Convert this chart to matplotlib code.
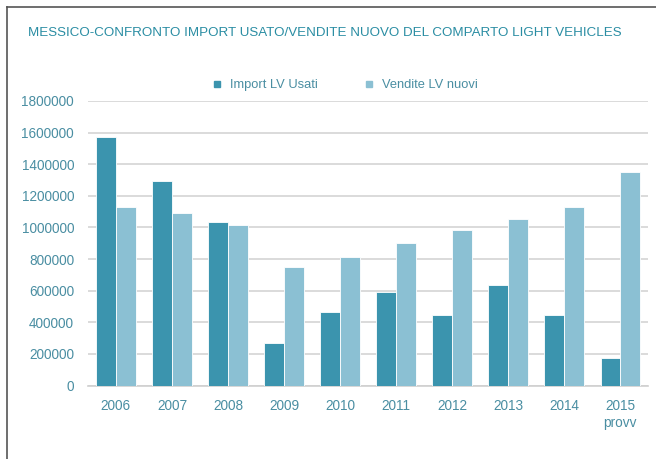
import matplotlib
matplotlib.use("Agg")
import matplotlib.pyplot as plt
from matplotlib.lines import Line2D
import numpy as np

years = ["2006", "2007", "2008", "2009", "2010", "2011", "2012", "2013", "2014", "2015\nprovv"]
import_usati = [1572000, 1291000, 1032000, 268000, 465000, 591000, 449000, 637000, 449000, 177000]
vendite_nuovi = [1129000, 1091000, 1017000, 747000, 816000, 901000, 983000, 1055000, 1131000, 1348000]
y_ticks = list(range(0, 1800001, 200000))

DARK = "#3b94ae"
LIGHT = "#8bc0d3"
TEXT = "#4a8ea2"
TITLE = "#2a8da3"

plt.rcParams.update({"font.family": ["Liberation Sans", "DejaVu Sans"], "font.size": 9})

fig = plt.figure(figsize=(6.56, 4.59), dpi=100)
ax = fig.add_axes([0.134, 0.160, 0.854, 0.620])

x = np.arange(len(years))
w = 0.345
ax.bar(x - w / 2 - 0.005, import_usati, w, color=DARK, edgecolor="white", lw=0.6,
       label="Import LV Usati", zorder=3)
ax.bar(x + w / 2 + 0.005, vendite_nuovi, w, color=LIGHT, edgecolor="white", lw=0.6,
       label="Vendite LV nuovi", zorder=3)

ax.set_xlim(-0.5, len(years) - 0.5)
ax.set_ylim(0, 1800000)
ax.set_yticks(y_ticks)
ax.set_yticklabels([str(v) for v in y_ticks])
ax.set_xticks(x)
ax.set_xticklabels(years)
ax.yaxis.grid(True, color="#d4d4d4", lw=1.2, zorder=0)
ax.set_axisbelow(True)
for s in ("top", "right", "left"):
    ax.spines[s].set_visible(False)
ax.spines["bottom"].set_color("#cfcfcf")
ax.spines["bottom"].set_linewidth(1.2)
ax.tick_params(axis="both", length=0, colors=TEXT, labelsize=9.8)
ax.tick_params(axis="y", pad=10)
ax.tick_params(axis="x", pad=10)

fig.text(0.043, 0.928, "MESSICO-CONFRONTO IMPORT USATO/VENDITE NUOVO DEL COMPARTO LIGHT VEHICLES",
         color=TITLE, fontsize=9.6, va="center", ha="left")

handles = [Line2D([], [], marker="s", ls="", color=DARK, markersize=5),
           Line2D([], [], marker="s", ls="", color=LIGHT, markersize=5)]
fig.legend(handles, ["Import LV Usati", "Vendite LV nuovi"], loc="center",
           bbox_to_anchor=(0.52, 0.814), ncol=2, frameon=False, fontsize=9.3,
           labelcolor=TEXT, handletextpad=0.0, columnspacing=3.0)

# picture frame
fig.add_artist(Line2D([0.011, 0.011], [0.0, 0.985], color="#555555", lw=1.2,
                      transform=fig.transFigure))
fig.add_artist(Line2D([0.011, 1.0], [0.985, 0.985], color="#555555", lw=1.2,
                      transform=fig.transFigure))

fig.savefig("out.png", dpi=100)
